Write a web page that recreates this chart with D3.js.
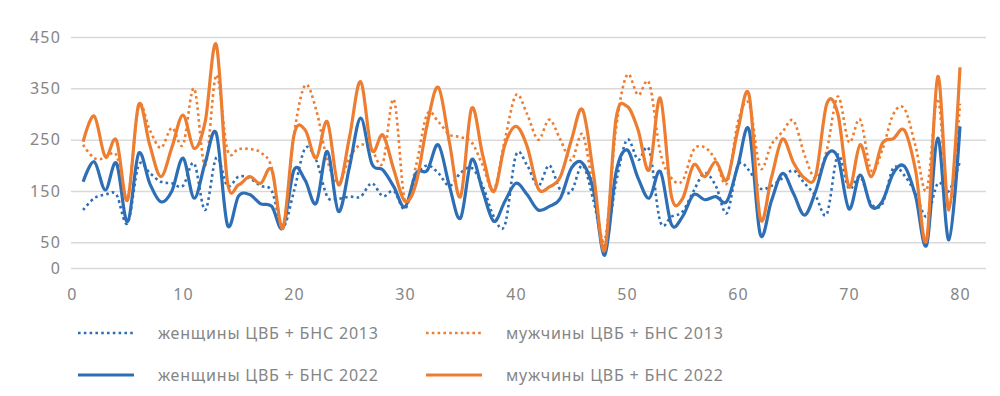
<!DOCTYPE html>
<html lang="ru">

<head>

    <meta charset="UTF-8">
    <title>ЦВБ + БНС 2013 / 2022</title>

    <style>

        body
        {
            margin: 0;
            background: #ffffff;
        }

        text
        {
            font-family: "Noto Sans", sans-serif;
            fill: #858585;
        }

        .tick text
        {
            font-size: 16px;
            letter-spacing: 1.2px;
        }

        .legend-label
        {
            font-size: 16px;
            letter-spacing: 0.8px;
        }

    </style>

</head>

<body>

    <svg width="1000" height="396"></svg>

    <script src="https://d3js.org/d3.v7.min.js"></script>

    <script>

        // Values, one per x step (1..80)

        const women2013 = [
            113, 136, 143, 143, 87, 200, 185, 168, 165, 160,
            204, 113, 215, 160, 178, 175, 160, 150, 80, 150,
            233, 210, 139, 135, 139, 139, 165, 140, 150, 115,
            178, 200, 185, 160, 185, 195, 160, 100, 84, 220,
            200, 160, 200, 152, 150, 200, 130, 45, 165, 250,
            211, 230, 90, 100, 110, 150, 185, 160, 107, 200,
            190, 155, 160, 175, 190, 165, 140, 105, 220, 155,
            178, 125, 125, 195, 180, 145, 100, 165, 150, 208
        ];

        const men2013 = [
            240, 214, 214, 220, 135, 314, 269, 234, 273, 240,
            350, 200, 376, 230, 232, 232, 225, 195, 80, 260,
            356, 308, 210, 165, 215, 240, 230, 205, 328, 130,
            200, 300, 285, 260, 255, 245, 200, 152, 250, 337,
            300, 250, 289, 250, 210, 260, 150, 55, 270, 376,
            337, 360, 225, 175, 170, 230, 235, 210, 165, 285,
            320, 195, 240, 265, 287, 220, 175, 230, 334, 245,
            289, 190, 230, 300, 310, 237, 152, 330, 120, 320
        ];

        const women2022 = [
            168, 207, 152, 204, 90, 223, 165, 129, 150, 214,
            136, 205, 262, 84, 140, 143, 125, 120, 78, 191,
            171, 126, 227, 110, 197, 292, 204, 191, 158, 119,
            185, 190, 240, 160, 97, 211, 150, 91, 130, 165,
            143, 113, 120, 136, 195, 204, 150, 25, 185, 230,
            175, 136, 188, 85, 100, 143, 133, 139, 130, 200,
            269, 66, 130, 184, 145, 103, 150, 220, 215, 115,
            181, 120, 130, 185, 198, 140, 45, 253, 55, 276
        ];

        const men2022 = [
            246, 296, 217, 249, 132, 318, 240, 178, 235, 298,
            233, 285, 435, 168, 162, 178, 165, 191, 78, 259,
            269, 214, 285, 162, 255, 363, 230, 259, 191, 130,
            165, 280, 352, 245, 139, 311, 220, 149, 240, 276,
            237, 155, 158, 178, 250, 308, 180, 35, 289, 315,
            269, 191, 331, 140, 135, 201, 178, 207, 172, 270,
            337, 97, 175, 251, 205, 175, 180, 320, 300, 158,
            240, 178, 243, 252, 268, 190, 55, 373, 113, 391
        ];

        const xTicks = [0, 10, 20, 30, 40, 50, 60, 70, 80];
        const yTicks = [0, 50, 150, 250, 350, 450];

        const seriesNames = [
            'женщины ЦВБ + БНС 2013',
            'мужчины ЦВБ + БНС 2013',
            'женщины ЦВБ + БНС 2022',
            'мужчины ЦВБ + БНС 2022'
        ];

        // Drawing order: dotted 2013 first, solid 2022 on top
        const series = [
            { name: seriesNames[0], values: women2013, color: '#2e6eb5', dotted: true },
            { name: seriesNames[1], values: men2013, color: '#ed7d31', dotted: true },
            { name: seriesNames[2], values: women2022, color: '#2e6eb5', dotted: false },
            { name: seriesNames[3], values: men2022, color: '#ed7d31', dotted: false }
        ];

        const svg = d3.select('svg');

        const plotLeft = 71;
        const plotRight = 986;

        const xScale = d3.scaleLinear()
            .domain([0, 80])
            .range([72, 960]);

        const yScale = d3.scaleLinear()
            .domain([0, 450])
            .range([268, 37]);

        // Horizontal grid lines + y labels
        const yAxis = d3.axisLeft(yScale)
            .tickValues(yTicks)
            .tickSize(-(plotRight - plotLeft))
            .tickPadding(10);

        const yAxisG = svg.append('g')
            .attr('transform', 'translate(' + plotLeft + ' 0)')
            .call(yAxis);

        yAxisG.select('.domain').remove();
        yAxisG.selectAll('.tick line')
            .attr('stroke', '#d9d9d9')
            .attr('stroke-width', 1.5);

        // x labels only
        const xAxis = d3.axisBottom(xScale)
            .tickValues(xTicks)
            .tickSize(0)
            .tickPadding(0);

        const xAxisG = svg.append('g')
            .attr('transform', 'translate(0 289)')
            .call(xAxis);

        xAxisG.select('.domain').remove();

        const line = d3.line()
            .x(function (d, i) {
                return xScale(i + 1);
            })
            .y(function (d) {
                return yScale(d);
            })
            .curve(d3.curveCatmullRom.alpha(0));

        svg.append('g')
            .selectAll('path')
            .data(series)
            .enter()
            .append('path')
            .attr('d', function (d) {
                return line(d.values);
            })
            .attr('fill', 'none')
            .attr('stroke', function (d) {
                return d.color;
            })
            .attr('stroke-width', function (d) {
                return d.dotted ? 2.6 : 3.2;
            })
            .attr('stroke-dasharray', function (d) {
                return d.dotted ? '2.6 3.2' : null;
            })
            .attr('stroke-linejoin', 'round');

        // Legend: 2 columns x 2 rows
        const legendX = [78, 426];
        const legendY = [333, 375];

        const legend = svg.append('g')
            .selectAll('g')
            .data(series)
            .enter()
            .append('g')
            .attr('transform', function (d, i) {
                return 'translate(' + legendX[i % 2] + ' ' + legendY[Math.floor(i / 2)] + ')';
            });

        legend.append('line')
            .attr('x1', 0)
            .attr('x2', 56)
            .attr('stroke', function (d) {
                return d.color;
            })
            .attr('stroke-width', function (d) {
                return d.dotted ? 2.6 : 3.2;
            })
            .attr('stroke-dasharray', function (d) {
                return d.dotted ? '2.6 3.2' : null;
            });

        legend.append('text')
            .attr('class', 'legend-label')
            .attr('x', 80)
            .attr('dy', '0.35em')
            .text(function (d) {
                return d.name;
            });

    </script>

</body>

</html>
